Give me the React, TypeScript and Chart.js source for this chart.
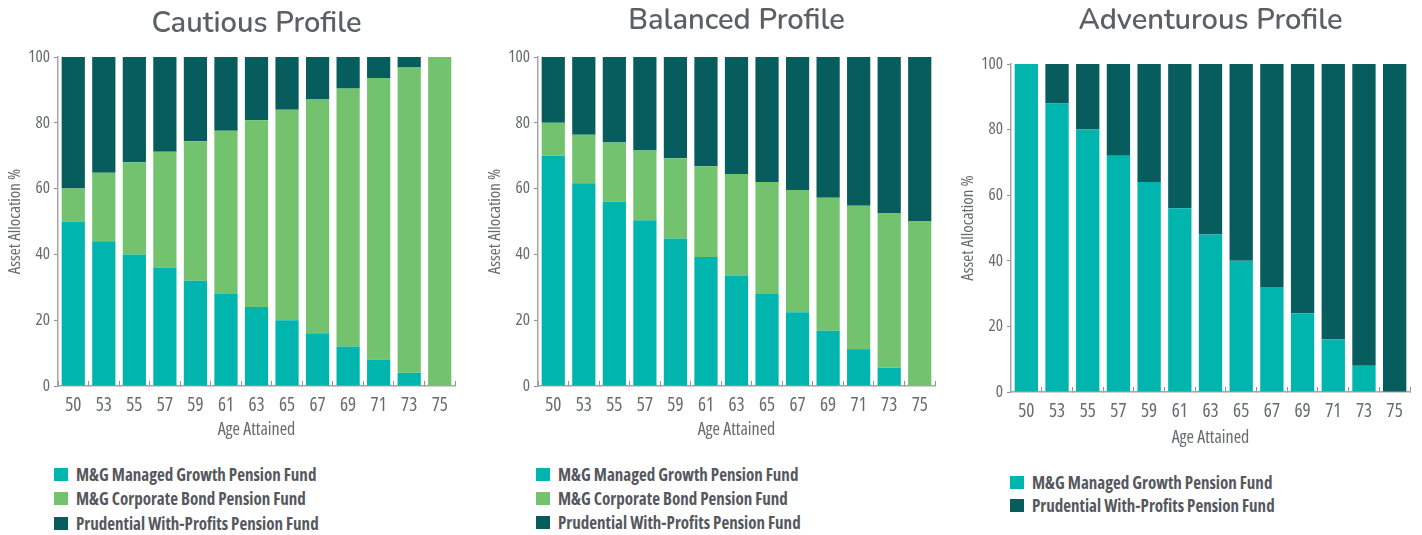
import React, { useEffect, useRef } from "react";
import { Chart, registerables } from "chart.js";

Chart.register(...registerables);

const ages = ["50", "53", "55", "57", "59", "61", "63", "65", "67", "69", "71", "73", "75"];
const yTicks = [0, 20, 40, 60, 80, 100];

const cautiousGrowth = [50, 44, 40, 36, 32, 28, 24, 20, 16, 12, 8, 4, 0];
const cautiousBond = [10, 20.8, 28, 35.2, 42.4, 49.6, 56.8, 64, 71.2, 78.4, 85.6, 92.8, 100];
const cautiousWithProfits = [40, 35.2, 32, 28.8, 25.6, 22.4, 19.2, 16, 12.8, 9.6, 6.4, 3.2, 0];

const balancedGrowth = [70, 61.6, 56, 50.4, 44.8, 39.2, 33.6, 28, 22.4, 16.8, 11.2, 5.6, 0];
const balancedBond = [10, 14.8, 18, 21.2, 24.4, 27.6, 30.8, 34, 37.2, 40.4, 43.6, 46.8, 50];
const balancedWithProfits = [20, 23.6, 26, 28.4, 30.8, 33.2, 35.6, 38, 40.4, 42.8, 45.2, 47.6, 50];

const adventurousGrowth = [100, 88, 80, 72, 64, 56, 48, 40, 32, 24, 16, 8, 0];
const adventurousWithProfits = [0, 12, 20, 28, 36, 44, 52, 60, 68, 76, 84, 92, 100];

const GROWTH = "M&G Managed Growth Pension Fund";
const BOND = "M&G Corporate Bond Pension Fund";
const PRU = "Prudential With-Profits Pension Fund";

const C_GROWTH = "#00b5ae";
const C_BOND = "#72c26e";
const C_PRU = "#075c5e";

const NARROW = "'Open Sans', 'Roboto', sans-serif";
const TITLE_FONT = "'Nunito', 'Open Sans', 'Lato', sans-serif";
const TEXT = "#676a70";

type Series = { label: string; data: number[]; color: string };

type Layout = {
  left: number;
  areaWidth: number;
  padRight: number;
  height: number;
  areaTop: number;
  areaBottom: number;
  titleY: number;
  xTitleY: number;
  legendX: number;
  legendY: number[];
};

const AXIS_W = 58;

const centerTitle = {
  id: "centerTitleOnArea",
  afterLayout(chart: any) {
    const t = chart.titleBlock;
    if (t) {
      t.left = chart.chartArea.left;
      t.right = chart.chartArea.right;
    }
  },
};

function ProfileChart({ title, series, layout }: { title: string; series: Series[]; layout: Layout }) {
  const ref = useRef<HTMLCanvasElement>(null);
  const width = AXIS_W + layout.areaWidth + layout.padRight;
  useEffect(() => {
    if (!ref.current) return;
    const titleSize = 29;
    const titleLH = titleSize * 1.2;
    const padTop = layout.titleY - titleLH / 2;
    const padBottom = layout.areaTop - padTop - titleLH;
    const xHeight = layout.height - layout.areaBottom;
    const xTitleLH = 18;
    const xTitlePadBottom = layout.height - layout.xTitleY - xTitleLH / 2;
    const chart = new Chart(ref.current, {
      type: "bar",
      data: {
        labels: ages,
        datasets: series.map((s) => ({
          label: s.label,
          data: s.data,
          backgroundColor: s.color,
          borderWidth: 0,
          barPercentage: 0.76,
          categoryPercentage: 1,
        })),
      },
      plugins: [centerTitle],
      options: {
        animation: false,
        responsive: false,
        maintainAspectRatio: false,
        layout: { padding: { top: 0, left: 0, right: layout.padRight, bottom: 0 } },
        plugins: {
          legend: { display: false },
          tooltip: { enabled: false },
          title: {
            display: true,
            text: title,
            color: "#5c5f65",
            font: { family: TITLE_FONT, size: titleSize, weight: "600", lineHeight: 1.2 },
            padding: { top: padTop, bottom: padBottom },
          },
        },
        scales: {
          x: {
            stacked: true,
            afterFit: (s: any) => {
              s.height = xHeight;
            },
            border: { display: true, color: "#a4a6a9", width: 1.5 },
            grid: {
              display: true,
              offset: true,
              drawOnChartArea: false,
              drawTicks: true,
              tickLength: -5,
              color: "#8d9093",
              lineWidth: 1,
            },
            ticks: {
              color: TEXT,
              font: { family: NARROW, size: 19, weight: "condensed" },
              padding: 13,
              maxRotation: 0,
              autoSkip: false,
            },
            title: {
              display: true,
              text: "Age Attained",
              color: TEXT,
              font: { family: NARROW, size: 18, weight: "condensed", lineHeight: 1 },
              padding: { top: 0, bottom: xTitlePadBottom },
            },
          },
          y: {
            stacked: true,
            min: 0,
            max: 100,
            afterFit: (s: any) => {
              s.width = AXIS_W;
            },
            afterBuildTicks: (s: any) => {
              s.ticks = yTicks.map((v) => ({ value: v }));
            },
            border: { display: true, color: "#a4a6a9", width: 1.5 },
            grid: {
              display: true,
              drawOnChartArea: false,
              drawTicks: true,
              tickLength: 4,
              color: "#8d9093",
            },
            ticks: {
              color: TEXT,
              font: { family: NARROW, size: 17, weight: "condensed" },
              padding: 4,
            },
            title: {
              display: true,
              text: "Asset Allocation %",
              color: TEXT,
              font: { family: NARROW, size: 17, weight: "condensed", lineHeight: 18 / 17 },
              padding: { top: 6, bottom: 0 },
            },
          },
        },
      },
    } as any);
    return () => chart.destroy();
  }, []);

  return (
    <div style={{ position: "absolute", left: layout.left, top: 0, width: width, height: 535 }}>
      <canvas ref={ref} width={width} height={layout.height} style={{ display: "block" }} />
      {series.map((s, i) => (
        <div
          key={s.label}
          style={{
            position: "absolute",
            left: layout.legendX,
            top: layout.legendY[i] - 12,
            height: 24,
            display: "flex",
            alignItems: "center",
            whiteSpace: "nowrap",
          }}
        >
          <span style={{ display: "inline-block", width: 14, height: 13, background: s.color, marginRight: 8 }} />
          <span
            style={{
              fontFamily: NARROW,
              fontWeight: 700,
              fontStretch: "condensed",
              fontSize: 17,
              color: "#55585e",
            }}
          >
            {s.label}
          </span>
        </div>
      ))}
    </div>
  );
}

export default function App() {
  return (
    <div
      style={{
        position: "fixed",
        left: 0,
        top: 0,
        width: 1422,
        height: 535,
        overflow: "hidden",
        background: "#ffffff",
      }}
    >
      <ProfileChart
        title="Cautious Profile"
        series={[
          { label: GROWTH, data: cautiousGrowth, color: C_GROWTH },
          { label: BOND, data: cautiousBond, color: C_BOND },
          { label: PRU, data: cautiousWithProfits, color: C_PRU },
        ]}
        layout={{
          left: 0,
          areaWidth: 397,
          padRight: 15,
          height: 445,
          areaTop: 57,
          areaBottom: 386,
          titleY: 24.5,
          xTitleY: 430,
          legendX: 54,
          legendY: [474, 498, 523],
        }}
      />
      <ProfileChart
        title="Balanced Profile"
        series={[
          { label: GROWTH, data: balancedGrowth, color: C_GROWTH },
          { label: BOND, data: balancedBond, color: C_BOND },
          { label: PRU, data: balancedWithProfits, color: C_PRU },
        ]}
        layout={{
          left: 480,
          areaWidth: 397,
          padRight: 15,
          height: 445,
          areaTop: 57,
          areaBottom: 386,
          titleY: 21.5,
          xTitleY: 430,
          legendX: 56,
          legendY: [474, 498, 522],
        }}
      />
      <ProfileChart
        title="Adventurous Profile"
        series={[
          { label: GROWTH, data: adventurousGrowth, color: C_GROWTH },
          { label: PRU, data: adventurousWithProfits, color: C_PRU },
        ]}
        layout={{
          left: 953,
          areaWidth: 399,
          padRight: 10,
          height: 452,
          areaTop: 64,
          areaBottom: 392,
          titleY: 21.5,
          xTitleY: 438,
          legendX: 57,
          legendY: [482, 505],
        }}
      />
    </div>
  );
}
